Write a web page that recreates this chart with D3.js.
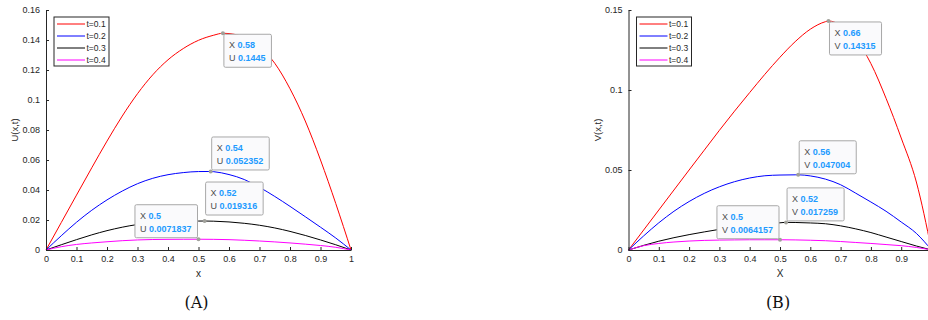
<!DOCTYPE html>
<html><head><meta charset="utf-8">
<script src="https://cdn.jsdelivr.net/npm/d3@7"></script>
<style>body{margin:0;background:#fff;overflow:hidden} svg{display:block}</style>
</head><body><svg id="c" width="928" height="320"></svg>
<script>
// ---------------- data ----------------
const xGrid = [0,0.05,0.1,0.15,0.2,0.25,0.3,0.35,0.4,0.45,0.5,0.55,0.6,0.65,0.7,0.75,0.8,0.85,0.9,0.95,1];
const seriesLabels = ["t=0.1","t=0.2","t=0.3","t=0.4"];

// Panel (A): U(x,t)
const uT01 = [0,0.0183,0.0366,0.0548,0.0726,0.0893,0.1042,0.1168,0.1268,0.1343,0.1398,0.1432,0.1443,0.1418,0.1355,0.1245,0.1075,0.086,0.06,0.031,0];
const uT02 = [0,0.0095,0.0185,0.0265,0.0334,0.0393,0.0442,0.0478,0.0502,0.0516,0.0523,0.0522,0.0503,0.047,0.0418,0.0357,0.0291,0.0222,0.0152,0.008,0];
const uT03 = [0,0.0035,0.0069,0.0101,0.0129,0.0152,0.017,0.0182,0.0189,0.0192,0.0193,0.0192,0.0187,0.0178,0.0165,0.0147,0.0124,0.0097,0.0067,0.0035,0];
const uT04 = [0,0.0022,0.0037,0.0047,0.0055,0.0062,0.0067,0.007,0.0071,0.00715,0.0071837,0.0071,0.0069,0.0065,0.006,0.0054,0.0047,0.0039,0.003,0.0018,0];
const uTipX = [0.58,0.54,0.52,0.5];
const uTipVal = ["0.1445","0.052352","0.019316","0.0071837"];

// Panel (B): V(x,t)
const vT01 = [0,0.0125,0.025,0.0375,0.05,0.0624,0.0748,0.0868,0.0984,0.1098,0.1205,0.1302,0.138,0.1427,0.1405,0.132,0.1165,0.0948,0.07,0.0425,0];
const vT02 = [0,0.0088,0.017,0.0242,0.0303,0.0354,0.0395,0.0427,0.045,0.0464,0.04685,0.04698,0.0463,0.0443,0.0408,0.0355,0.03,0.0242,0.0175,0.0104,0];
const vT03 = [0,0.0029,0.0055,0.0077,0.0096,0.0113,0.0129,0.0143,0.0155,0.0164,0.017,0.0172,0.0169,0.0164,0.0151,0.0132,0.0109,0.0081,0.0053,0.0025,0];
const vT04 = [0,0.0027,0.0041,0.005,0.0056,0.006,0.0062,0.0063,0.0064,0.0064,0.0064157,0.0063,0.0061,0.0058,0.0053,0.0047,0.0041,0.0034,0.0027,0.0016,0];
const vTipX = [0.66,0.56,0.52,0.5];
const vTipVal = ["0.14315","0.047004","0.017259","0.0064157"];

const xTicks = [0,0.1,0.2,0.3,0.4,0.5,0.6,0.7,0.8,0.9,1];
const xTickLabels = ["0","0.1","0.2","0.3","0.4","0.5","0.6","0.7","0.8","0.9","1"];
const uTicks = [0,0.02,0.04,0.06,0.08,0.1,0.12,0.14,0.16];
const uTickLabels = ["0","0.02","0.04","0.06","0.08","0.1","0.12","0.14","0.16"];
const vTicks = [0,0.05,0.1,0.15];
const vTickLabels = ["0","0.05","0.1","0.15"];

// ---------------- style ----------------
const colors = ["#ff0000","#0000ff","#000000","#ff00ff"];
const axisCol = "#262626";
const font = "'Liberation Sans', Arial, Helvetica, sans-serif";
const W = 928;
const svg = d3.select("#c");

function panel(cfg){
  const g = svg.append("g");
  const x = d3.scaleLinear().domain([0,1]).range(cfg.xr);
  const y = d3.scaleLinear().domain([0,cfg.ymax]).range([250,10]);

  // curves
  const line = d3.line().x(d=>x(d[0])).y(d=>y(d[1])).curve(d3.curveMonotoneX);
  cfg.series.forEach((vals,i)=>{
    const pts = xGrid.map((xv,j)=>[xv,vals[j]]).filter(p=>Math.abs(p[0]-cfg.tipX[i])>1e-9);
    pts.push([cfg.tipX[i], +cfg.tipVal[i]]);
    pts.sort((a,b)=>a[0]-b[0]);
    g.append("path").attr("d",line(pts)).attr("fill","none")
      .attr("stroke",colors[i]).attr("stroke-width",1);
  });

  // axes
  const ax = d3.axisBottom(x).tickValues(xTicks).tickFormat((d,i)=>xTickLabels[i]).tickSizeInner(-3).tickSizeOuter(0).tickPadding(6);
  const gx = g.append("g").attr("transform","translate(0,250)").call(ax);
  // the reference photo is cut at the page edge: drop labels that fall outside it
  gx.selectAll(".tick").filter(d=>x(d)+3>W).select("text").remove();
  const ay = d3.axisLeft(y).tickValues(cfg.yTicks).tickFormat((d,i)=>cfg.yTickLabels[i]).tickSizeInner(-3).tickSizeOuter(0).tickPadding(6);
  const gy = g.append("g").attr("transform",`translate(${cfg.xr[0]},0)`).call(ay);
  [gx,gy].forEach(a=>{
    a.select(".domain").attr("stroke",axisCol).attr("stroke-width",1);
    a.selectAll(".tick line").attr("stroke",axisCol);
    a.selectAll("text").attr("fill",axisCol).style("font-family",font).style("font-size","9px");
  });

  // axis labels
  g.append("text").attr("x",(cfg.xr[0]+cfg.xr[1])/2).attr("y",277).attr("text-anchor","middle")
    .attr("fill",axisCol).style("font-family",font).style("font-size","10px").text(cfg.xlabel);
  g.append("text").attr("transform",`translate(${cfg.xr[0]-28},130) rotate(-90)`).attr("text-anchor","middle")
    .attr("fill",axisCol).style("font-family",font).style("font-size","9.5px").text(cfg.ylabel);

  // legend
  const lx = cfg.xr[0]+8, ly = 17;
  g.append("rect").attr("x",lx).attr("y",ly).attr("width",55).attr("height",49)
    .attr("fill","#fff").attr("stroke",axisCol).attr("stroke-width",1);
  seriesLabels.forEach((s,i)=>{
    const yy = ly+7+12*i;
    g.append("line").attr("x1",lx+3).attr("x2",lx+31).attr("y1",yy).attr("y2",yy)
      .attr("stroke",colors[i]).attr("stroke-width",1);
    g.append("text").attr("x",lx+32.5).attr("y",yy+3).attr("fill",axisCol)
      .style("font-family",font).style("font-size","8.5px").text(s);
  });

  // datatips
  cfg.tipX.forEach((tx,i)=>{
    const px = x(tx), py = y(+cfg.tipVal[i]);
    const lay = cfg.tipLayout[i];
    const tg = g.append("g");
    const rect = tg.append("rect").attr("fill","#fafafc").attr("stroke","#a8a8a8").attr("stroke-width",1).attr("rx",1.5);
    const lines = [["X", String(tx)],[cfg.letter, cfg.tipVal[i]]];
    const texts = lines.map((l,k)=>{
      const t = tg.append("text").style("font-family",font).style("font-size","9px");
      t.append("tspan").attr("fill","#4d4d4d").text(l[0]+" ");
      t.append("tspan").attr("fill","#1e9bff").attr("font-weight","bold").text(l[1]);
      return t;
    });
    const w = d3.max(texts, t=>t.node().getComputedTextLength()) + 11;
    const h = 33;
    let bx, by;
    if (lay.o==="br"){ bx = px+1; by = py+lay.gap; }
    else if (lay.o==="tr"){ bx = px+1; by = py-lay.gap-h; }
    else { bx = px-1-w; by = py-lay.gap-h; }
    rect.attr("x",bx).attr("y",by).attr("width",w).attr("height",h);
    texts.forEach((t,k)=>t.attr("x",bx+5).attr("y",by+14+13*k));
    g.append("circle").attr("cx",px).attr("cy",py).attr("r",2).attr("fill","#a0a09a");
  });

  // caption
  g.append("text").attr("x",(cfg.xr[0]+cfg.xr[1])/2-2).attr("y",308).attr("text-anchor","middle")
    .attr("fill","#111").style("font-family","'DejaVu Serif','Liberation Serif',serif").style("font-size","16px").text(cfg.caption);
}

panel({xr:[46,351], ymax:0.16, yTicks:uTicks, yTickLabels:uTickLabels, xlabel:"x", ylabel:"U(x,t)",
  letter:"U", caption:"(A)", series:[uT01,uT02,uT03,uT04], tipX:uTipX, tipVal:uTipVal,
  tipLayout:[{o:"br",gap:1},{o:"tr",gap:1.5},{o:"tr",gap:6},{o:"tl",gap:1.5}]});
panel({xr:[628.5,931.5], ymax:0.15, yTicks:vTicks, yTickLabels:vTickLabels, xlabel:"X", ylabel:"V(x,t)",
  letter:"V", caption:"(B)", series:[vT01,vT02,vT03,vT04], tipX:vTipX, tipVal:vTipVal,
  tipLayout:[{o:"br",gap:1},{o:"tr",gap:1},{o:"tr",gap:1.5},{o:"tl",gap:1}]});
</script></body></html>
